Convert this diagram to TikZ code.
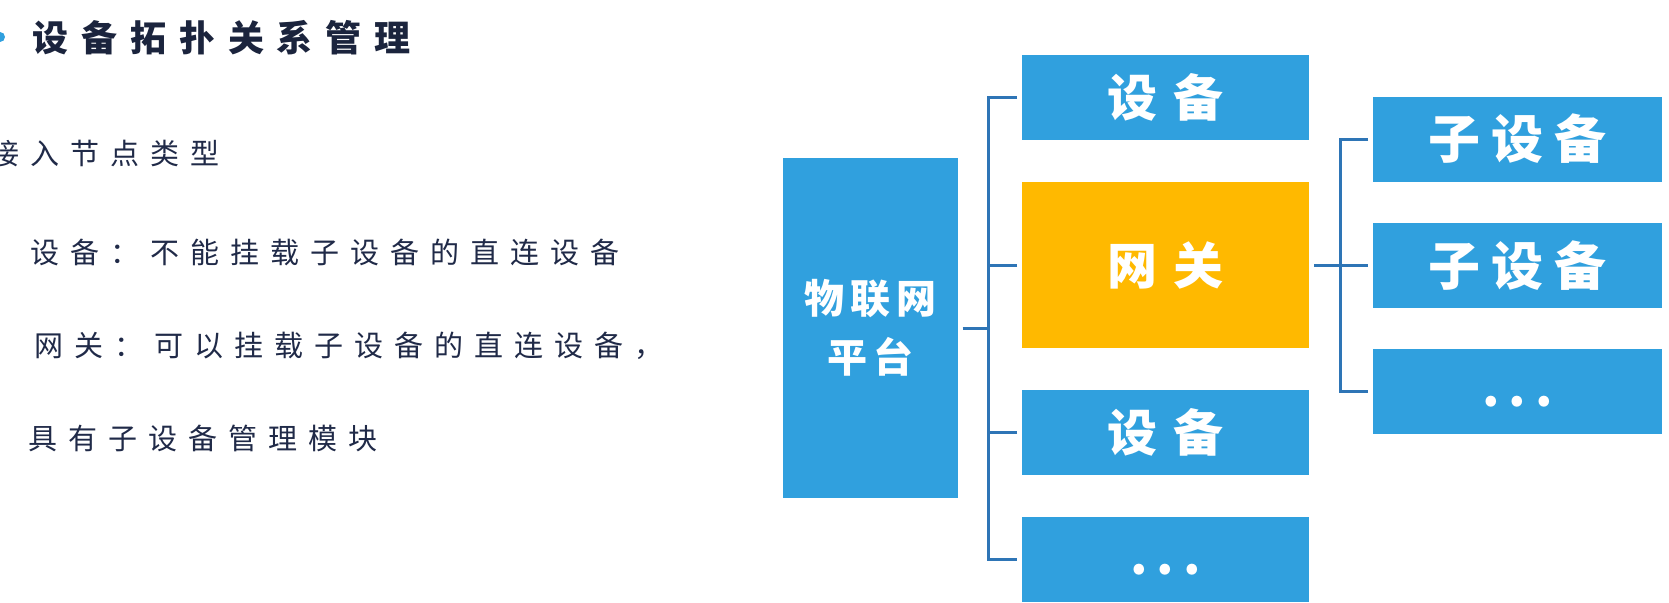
\documentclass[tikz,border=0pt]{standalone}
\usepackage{fontspec}
\setmainfont{Noto Sans CJK SC}
\newfontfamily\cjk{Noto Sans CJK SC}
\usetikzlibrary{positioning}
\definecolor{boxBlue}{RGB}{48,160,222}
\definecolor{gwOrange}{RGB}{255,185,0}
\definecolor{linkBlue}{RGB}{46,117,182}
\definecolor{textNavy}{RGB}{32,42,72}

\begin{document}
\begin{tikzpicture}[
  x=1pt, y=-1pt,
  txt/.style={
    anchor=west,
    inner sep=0pt,
    text=textNavy,
    font=\cjk\fontsize{29}{35}\selectfont\addfontfeature{LetterSpace=38},
  },
  box/.style={
    rectangle,
    fill=boxBlue,
    inner sep=0pt,
    outer sep=5pt,
    minimum width=287pt,
    minimum height=85pt,
    text=white,
    font=\cjk\bfseries\fontsize{50}{60}\selectfont\addfontfeature{LetterSpace=32},
  },
  subbox/.style={
    box,
    minimum width=289pt,
    font=\cjk\bfseries\fontsize{52}{60}\selectfont\addfontfeature{LetterSpace=21},
  },
  dots/.style={
    text height=30pt,
    text depth=0pt,
    font=\cjk\bfseries\fontsize{50}{60}\selectfont\addfontfeature{LetterSpace=18},
  },
  link/.style={linkBlue, line width=3pt},
]

  \useasboundingbox[fill=white] (0,0) rectangle (1669,602);

  \node[circle, fill=boxBlue, inner sep=0pt, minimum size=10pt] (bullet) at (0,37) {};
  \node[txt, text=textNavy!85!black,
    font=\cjk\bfseries\fontsize{36}{40}\selectfont\addfontfeature{LetterSpace=36}]
    (title) at (32,38) {设备拓扑关系管理};

  \node[txt] (kind) at (-10,154) {接入节点类型};
  \node[txt] (devtxt) at (30,252) {设备：不能挂载子设备的直连设备};
  \node[txt] (gwtxt) at (34,346) {网关：可以挂载子设备的直连设备，};
  \node[txt] (gwtxt2) at (28,438) {具有子设备管理模块};

  \node[box, minimum width=175pt, minimum height=340pt, align=center,
    font=\cjk\bfseries\fontsize{40}{59}\selectfont\addfontfeature{LetterSpace=15}]
    (plat) at (870,328) {物联网\\平台};

  \node[box] (dev1) at (1165.5,97.5) {设备};
  \node[box, fill=gwOrange, minimum height=166pt] (gw) at (1165.5,265) {网关};
  \node[box] (dev2) at (1165.5,432.5) {设备};
  \node[box, dots] (more) at (1165.5,559.5) {...};

  \node[subbox] (sub1) at (1517.5,139) {子设备};
  \node[subbox] (sub2) at (1517.5,265.5) {子设备};
  \node[subbox, dots] (submore) at (1517.5,391.5) {...};

  \coordinate (bus) at (988.5,0);
  \coordinate (subbus) at (1340,0);

  \draw[link] (plat.east) -- (plat.east -| bus);
  \draw[link] (dev1.west) -- (dev1.west -| bus) -- (more.west -| bus) -- (more.west);
  \draw[link] (gw.west) -- (gw.west -| bus);
  \draw[link] (dev2.west) -- (dev2.west -| bus);

  \draw[link] (gw.east) -- (gw.east -| sub2.west);
  \draw[link] (sub1.west) -- (sub1.west -| subbus) -- (submore.west -| subbus) -- (submore.west);

\end{tikzpicture}
\end{document}
